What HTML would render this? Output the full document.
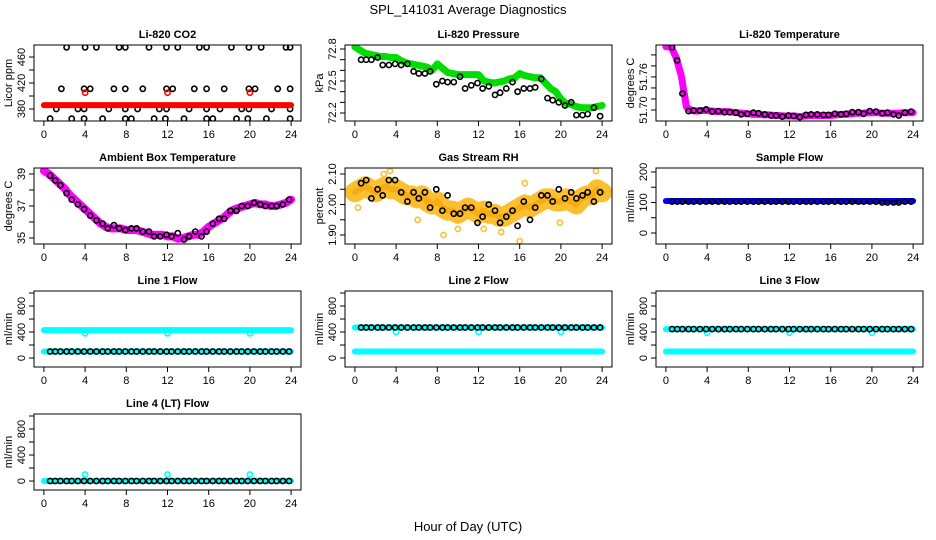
<!DOCTYPE html>
<html><head><meta charset="utf-8"><style>
html,body{margin:0;padding:0;background:#fff}
svg{display:block;font-family:"Liberation Sans",Arial,sans-serif}
</style></head><body>
<svg id="chart" width="936" height="540" viewBox="0 0 936 540" xmlns="http://www.w3.org/2000/svg">
<text x="468" y="14" font-size="13" text-anchor="middle">SPL_141031  Average Diagnostics</text>
<text x="468" y="531" font-size="13" text-anchor="middle">Hour of Day (UTC)</text>
</svg>
<script>
const xTicks = [0,4,8,12,16,20,24];
const bandHours = [0,0.5,1,1.5,2,2.5,3,3.5,4,4.5,5,5.5,6,6.5,7,7.5,8,8.5,9,9.5,10,10.5,11,11.5,12,12.5,13,13.5,14,14.5,15,15.5,16,16.5,17,17.5,18,18.5,19,19.5,20,20.5,21,21.5,22,22.5,23,23.5,24];
const blackHours = [0.6,1.1,1.6,2.2,2.7,3.3,3.9,4.5,5.1,5.7,6.2,6.8,7.3,7.9,8.5,9.0,9.6,10.2,10.7,11.3,11.9,12.4,13.0,13.6,14.1,14.7,15.3,15.8,16.4,17.0,17.5,18.1,18.7,19.2,19.8,20.4,21.0,21.5,22.1,22.6,23.2,23.8];
const flatHours = [0,3,6,9,12,15,18,21,24];
const spikeHours = [4,12,20];

const co2BlackHours = [2.2,4,5.1,7.3,7.9,10.2,11.9,13,15.1,15.8,18.2,19.9,21.1,23.5,23.9, 1.7,3.9,4.5,6.8,7.9,9.6,11.9,12.5,14.6,15.8,17.5,19.9,20.5,22.7,23.9, 1.2,3.3,3.9,6.3,7.9,9.1,11.2,11.9,14.1,15.8,17.1,19.2,19.9,22.1,23.9, 0.6,2.7,3.9,5.7,7.9,8.5,10.7,11.8,13.6,15.8,16.4,18.7,19.8,21.6,23.9];
const co2BlackValues = [475,475,475,475,475,475,475,475,475,475,475,475,475,475,475, 411,411,411,411,411,411,411,411,411,411,411,411,411,411,411, 380,380,380,380,380,380,380,380,380,380,380,380,380,380,380, 365,365,365,365,365,365,365,365,365,365,365,365,365,365,365];
const co2Red = [386,386,386,386,386,386,386,386,386];
const co2Spikes = [405,405,405];

const pressGreen = [72.82,72.79,72.76,72.75,72.74,72.73,72.73,72.72,72.72,72.69,72.67,72.66,72.65,72.64,72.63,72.60,72.66,72.62,72.58,72.57,72.56,72.56,72.56,72.56,72.56,72.50,72.49,72.48,72.49,72.50,72.52,72.53,72.57,72.55,72.54,72.53,72.53,72.48,72.43,72.40,72.33,72.29,72.28,72.26,72.25,72.25,72.25,72.26,72.27];
const pressBlack = [72.70,72.70,72.70,72.72,72.65,72.65,72.66,72.65,72.66,72.59,72.57,72.57,72.59,72.47,72.50,72.49,72.49,72.54,72.43,72.46,72.48,72.43,72.45,72.37,72.39,72.43,72.49,72.40,72.43,72.43,72.44,72.52,72.34,72.32,72.30,72.27,72.30,72.18,72.18,72.19,72.25,72.17];

const tempMagenta = [51.815,51.815,51.795,51.762,51.705,51.699,51.698,51.699,51.699,51.698,51.697,51.697,51.697,51.696,51.695,51.694,51.693,51.692,51.692,51.691,51.691,51.690,51.690,51.689,51.689,51.689,51.688,51.689,51.690,51.690,51.690,51.690,51.690,51.691,51.692,51.692,51.693,51.694,51.694,51.695,51.695,51.695,51.694,51.694,51.694,51.694,51.695,51.695,51.695];
const tempBlack = [51.814,51.790,51.730,51.698,51.699,51.699,51.701,51.697,51.698,51.696,51.696,51.695,51.692,51.693,51.695,51.694,51.692,51.690,51.690,51.688,51.690,51.689,51.687,51.691,51.692,51.692,51.691,51.691,51.693,51.692,51.693,51.696,51.696,51.693,51.698,51.697,51.694,51.695,51.692,51.690,51.695,51.697];

const ambMagenta = [39.2,39.0,38.7,38.4,38.1,37.7,37.4,37.1,36.8,36.5,36.2,35.9,35.7,35.6,35.6,35.6,35.5,35.5,35.5,35.4,35.3,35.2,35.2,35.2,35.1,35.1,34.95,35.0,35.1,35.2,35.2,35.4,35.7,35.9,36.1,36.3,36.6,36.8,36.9,37.0,37.1,37.2,37.1,37.1,37.0,37.0,37.1,37.2,37.4];
const ambBlack = [38.9,38.6,38.3,37.8,37.4,37.1,36.8,36.4,36.1,35.9,35.6,35.8,35.6,35.5,35.6,35.6,35.4,35.4,35.1,35.1,35.2,35.1,35.3,34.9,35.1,35.4,35.1,35.4,35.9,36.2,36.2,36.7,36.7,37.0,37.0,37.2,37.1,37.0,37.0,37.0,37.1,37.4];

const rhOrange = [2.04,2.05,2.06,2.05,2.04,2.05,2.06,2.05,2.05,2.04,2.03,2.03,2.02,2.03,2.01,2.00,2.01,1.99,1.98,1.98,1.97,1.98,1.99,1.98,1.97,1.98,1.97,1.97,1.96,1.96,1.97,1.98,1.99,2.00,1.99,2.00,2.01,2.02,2.02,2.01,2.01,2.02,2.01,2.00,2.02,2.03,2.03,2.05,2.04];
const rhOutlierHours = [0.3,3.4,8.6,6.1,16.0,16.5,23.4,2.8,12.5,19.9,10.0,14.2];
const rhOutlierValues = [1.99,2.11,1.90,1.95,1.88,2.07,2.11,2.10,1.92,1.94,1.92,1.91];
const rhBlack = [2.07,2.08,2.02,2.05,2.03,2.08,2.08,2.04,2.01,2.04,2.02,2.04,1.99,2.05,1.98,2.03,1.97,1.97,1.99,1.99,1.94,1.96,2.00,1.98,1.94,1.96,1.98,1.93,2.01,1.95,1.99,2.03,2.03,2.01,2.05,2.02,2.04,2.02,2.03,2.04,2.01,2.04];

const sampleBlue = [105,105,105,105,105,105,105,105,105];
const sampleBlack = [103,103,103,103,103,103,103,103,103,103,103,103,103,103,103,103,103,103,103,103,103,103,103,103,103,103,103,103,103,103,103,103,103,103,103,103,100,100,100,100,103,103];

const line1Upper = [430,430,430,430,430,430,430,430,430];
const line1Lower = [100,100,100,100,100,100,100,100,100];
const line1Spikes = [380,380,380];
const line1Black = [100,100,100,100,100,100,100,100,100,100,100,100,100,100,100,100,100,100,100,100,100,100,100,100,100,100,100,100,100,100,100,100,100,100,100,100,100,100,100,100,100,100];
const line2Upper = [470,470,470,470,470,470,470,470,470];
const line2Lower = [100,100,100,100,100,100,100,100,100];
const line2Spikes = [400,400,400];
const line2Black = [470,470,470,470,470,470,470,470,470,470,470,470,470,470,470,470,470,470,470,470,470,470,470,470,470,470,470,470,470,470,470,470,470,470,470,470,470,470,470,470,470,470];
const line3Upper = [445,445,445,445,445,445,445,445,445];
const line3Lower = [100,100,100,100,100,100,100,100,100];
const line3Spikes = [390,390,390];
const line3Black = [445,445,445,445,445,445,445,445,445,445,445,445,445,445,445,445,445,445,445,445,445,445,445,445,445,445,445,445,445,445,445,445,445,445,445,445,445,445,445,445,445,445];
const line4Lower = [0,0,0,0,0,0,0,0,0];
const line4Spikes = [100,100,100];
const line4Black = [0,0,0,0,0,0,0,0,0,0,0,0,0,0,0,0,0,0,0,0,0,0,0,0,0,0,0,0,0,0,0,0,0,0,0,0,0,0,0,0,0,0];

const NS = 'http://www.w3.org/2000/svg';
const svg = document.getElementById('chart');
const colL = [34,345,656];
const rowT = [45,168,291,414];
const W = 267, H = 76;

function mk(tag, attrs, parent){
  const e = document.createElementNS(NS, tag);
  for (const k in attrs) e.setAttribute(k, attrs[k]);
  parent.appendChild(e);
  return e;
}

function panel(p){
  const L = colL[p.col], T = rowT[p.row];
  const g = mk('g', {}, svg);
  
  
  const xs = h => L + (h + 0.96) / 25.92 * W;
  const ys = v => T + (p.top - v) / (p.top - p.bottom) * H;
  const t = mk('text', {x: L + W/2, y: T - 7, 'font-size': 11, 'font-weight': 'bold', 'text-anchor': 'middle'}, g);
  t.textContent = p.title;
  
  
  const clip = mk('clipPath', {id: 'c' + p.col + p.row}, g);
  mk('rect', {x: L, y: T, width: W, height: H}, clip);
  const plot = mk('g', {'clip-path': 'url(#c' + p.col + p.row + ')'}, g);
  
  
  (p.layers || []).forEach(layer => {
    if (layer.type === 'band') {
      const pts = layer.hours.map((h, i) => xs(h).toFixed(1) + ',' + ys(layer.values[i]).toFixed(1)).join(' ');
      const pl = mk('polyline', {points: pts, fill: 'none', stroke: layer.color, 'stroke-width': layer.width || 7, 'stroke-linecap': 'round', 'stroke-linejoin': 'round', 'stroke-opacity': layer.op || 1}, plot);
      
      
    } else {
      layer.hours.forEach((h, i) => {
        const c = mk('circle', {cx: xs(h).toFixed(1), cy: ys(layer.values[i]).toFixed(1), r: layer.r || 2.6, fill: 'none', stroke: layer.color, 'stroke-width': layer.sw || 1.6}, plot);
        
        
      });
    }
  });
  const box = mk('rect', {x: L, y: T, width: W, height: H, fill: 'none', stroke: '#000', 'stroke-width': 1}, g);
  
  
  xTicks.forEach(v => {
    const x = xs(v);
    mk('line', {x1: x, x2: x, y1: T + H, y2: T + H + 5, stroke: '#000'}, g);
    const tl = mk('text', {x: x, y: T + H + 17, 'font-size': 11, 'text-anchor': 'middle'}, g);
    tl.textContent = String(v);
    
    
  });
  p.yTicks.forEach(v => {
    const y = ys(v);
    mk('line', {x1: L - 5, x2: L, y1: y, y2: y, stroke: '#000'}, g);
  });
  p.yLabels.forEach((lab, i) => {
    const y = ys(p.yLabelVals[i]);
    const tl = mk('text', {x: 0, y: 0, 'font-size': 11, 'text-anchor': 'middle', transform: 'translate(' + (L - 9) + ',' + y + ') rotate(-90)'}, g);
    tl.textContent = lab;
    
    
  });
  const yl = mk('text', {x: 0, y: 0, 'font-size': 11, 'text-anchor': 'middle', transform: 'translate(' + (L - 22) + ',' + (T + H/2) + ') rotate(-90)'}, g);
  yl.textContent = p.ylab;
  
  
}

const flowTicks = [0,200,400,600,800,1000];
panel({name:'co2-panel', col:0,row:0,title:'Li-820 CO2',ylab:'Licor ppm',top:478.5,bottom:361.5,yTicks:[380,400,420,440,460],yLabels:['380','420','460'],yLabelVals:[380,420,460],
  layers:[{type:'pts',name:'co2-black-point',hours:co2BlackHours,values:co2BlackValues,color:'#000'},
          {type:'band',name:'co2-red-band',hours:flatHours,values:co2Red,color:'#ff0000',width:6},
          {type:'pts',name:'co2-red-spike',hours:spikeHours,values:co2Spikes,color:'#ff0000'}]});
panel({name:'pressure-panel', col:1,row:0,title:'Li-820 Pressure',ylab:'kPa',top:72.8375,bottom:72.125,yTicks:[72.2,72.3,72.4,72.5,72.6,72.7,72.8],yLabels:['72.2','72.5','72.8'],yLabelVals:[72.2,72.5,72.8],
  layers:[{type:'band',name:'pressure-green-band',hours:bandHours,values:pressGreen,color:'#00dd00',width:7},
          {type:'pts',name:'pressure-black-point',hours:blackHours,values:pressBlack,color:'#000'}]});
panel({name:'temperature-panel', col:2,row:0,title:'Li-820 Temperature',ylab:'degrees C',top:51.818,bottom:51.68,yTicks:[51.70,51.72,51.74,51.76,51.78,51.80],yLabels:['51.70','51.76'],yLabelVals:[51.70,51.76],
  layers:[{type:'band',name:'temperature-magenta-band',hours:bandHours,values:tempMagenta,color:'#ff00ff',width:7},
          {type:'pts',name:'temperature-black-point',hours:blackHours,values:tempBlack,color:'#000'}]});
panel({name:'ambient-panel', col:0,row:1,title:'Ambient Box Temperature',ylab:'degrees C',top:39.375,bottom:34.625,yTicks:[35,36,37,38,39],yLabels:['35','37','39'],yLabelVals:[35,37,39],
  layers:[{type:'band',name:'ambient-magenta-band',hours:bandHours,values:ambMagenta,color:'#ff00ff',width:8},
          {type:'pts',name:'ambient-black-point',hours:blackHours,values:ambBlack,color:'#000'}]});
panel({name:'rh-panel', col:1,row:1,title:'Gas Stream RH',ylab:'percent',top:2.1197,bottom:1.8705,yTicks:[1.90,1.95,2.00,2.05,2.10],yLabels:['1.90','2.00','2.10'],yLabelVals:[1.90,2.00,2.10],
  layers:[{type:'band',name:'rh-orange-band',hours:bandHours,values:rhOrange,color:'#fbbf30',width:20},
          {type:'band',name:'rh-yellow-band',hours:bandHours,values:rhOrange,color:'#f5a000',width:6,op:0.6},
          {type:'pts',name:'rh-outlier',hours:rhOutlierHours,values:rhOutlierValues,color:'#fbbf30'},
          {type:'pts',name:'rh-black-point',hours:blackHours,values:rhBlack,color:'#000'}]});
panel({name:'sample-flow-panel', col:2,row:1,title:'Sample Flow',ylab:'ml/min',top:213,bottom:-36,yTicks:[0,50,100,150,200],yLabels:['0','100','200'],yLabelVals:[0,100,200],
  layers:[{type:'band',name:'sample-blue-band',hours:flatHours,values:sampleBlue,color:'#0000ff',width:6},
          {type:'pts',name:'sample-black-point',hours:blackHours,values:sampleBlack,color:'#000'}]});
panel({name:'line1-panel', col:0,row:2,title:'Line 1 Flow',ylab:'ml/min',top:1031,bottom:-138,yTicks:flowTicks,yLabels:['0','400','800'],yLabelVals:[0,400,800],
  layers:[{type:'band',name:'line1-cyan-upper',hours:flatHours,values:line1Upper,color:'#00ffff',width:6},
          {type:'band',name:'line1-cyan-lower',hours:flatHours,values:line1Lower,color:'#00ffff',width:6},
          {type:'pts',name:'line1-cyan-spike',hours:spikeHours,values:line1Spikes,color:'#00ffff'},
          {type:'pts',name:'line1-black-point',hours:blackHours,values:line1Black,color:'#000'}]});
panel({name:'line2-panel', col:1,row:2,title:'Line 2 Flow',ylab:'ml/min',top:1031,bottom:-138,yTicks:flowTicks,yLabels:['0','400','800'],yLabelVals:[0,400,800],
  layers:[{type:'band',name:'line2-cyan-upper',hours:flatHours,values:line2Upper,color:'#00ffff',width:6},
          {type:'band',name:'line2-cyan-lower',hours:flatHours,values:line2Lower,color:'#00ffff',width:6},
          {type:'pts',name:'line2-cyan-spike',hours:spikeHours,values:line2Spikes,color:'#00ffff'},
          {type:'pts',name:'line2-black-point',hours:blackHours,values:line2Black,color:'#000'}]});
panel({name:'line3-panel', col:2,row:2,title:'Line 3 Flow',ylab:'ml/min',top:1031,bottom:-138,yTicks:flowTicks,yLabels:['0','400','800'],yLabelVals:[0,400,800],
  layers:[{type:'band',name:'line3-cyan-upper',hours:flatHours,values:line3Upper,color:'#00ffff',width:6},
          {type:'band',name:'line3-cyan-lower',hours:flatHours,values:line3Lower,color:'#00ffff',width:6},
          {type:'pts',name:'line3-cyan-spike',hours:spikeHours,values:line3Spikes,color:'#00ffff'},
          {type:'pts',name:'line3-black-point',hours:blackHours,values:line3Black,color:'#000'}]});
panel({name:'line4-panel', col:0,row:3,title:'Line 4 (LT) Flow',ylab:'ml/min',top:1031,bottom:-138,yTicks:flowTicks,yLabels:['0','400','800'],yLabelVals:[0,400,800],
  layers:[{type:'band',name:'line4-cyan-lower',hours:flatHours,values:line4Lower,color:'#00ffff',width:6},
          {type:'pts',name:'line4-cyan-spike',hours:spikeHours,values:line4Spikes,color:'#00ffff'},
          {type:'pts',name:'line4-black-point',hours:blackHours,values:line4Black,color:'#000'}]});
</script>
</body></html>
